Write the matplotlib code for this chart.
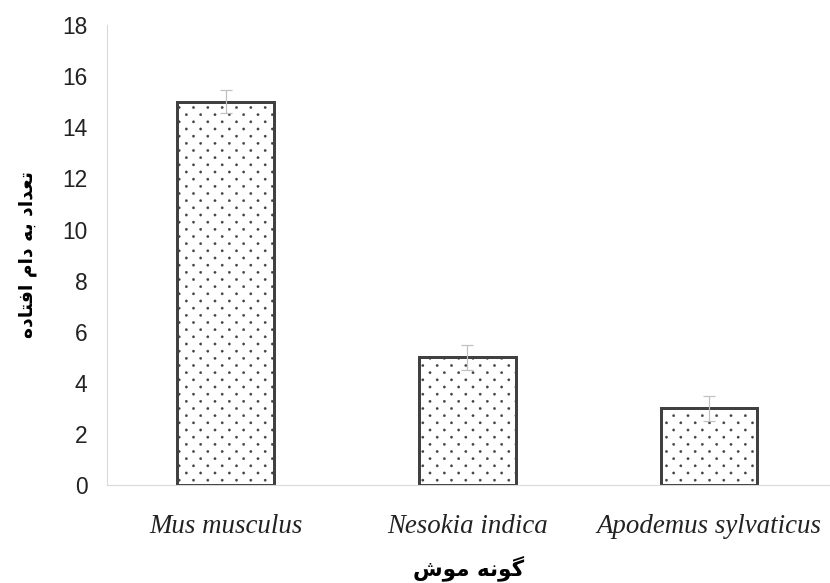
import numpy as np
import matplotlib.pyplot as plt
from matplotlib import hatch as mhatch
from matplotlib.path import Path

# Datos
especies = ['Mus musculus', 'Nesokia indica', 'Apodemus sylvaticus']
capturas = [15, 5, 3]
errores = [0.45, 0.5, 0.5]
titulo_y = 'تعداد به دام افتاده'
titulo_x = 'گونه موش'

# formas (aislada, final, inicial, media) para el texto persa
FORMAS = {
    'ا': ('\uFE8D', '\uFE8E', None, None),
    'ب': ('\uFE8F', '\uFE90', '\uFE91', '\uFE92'),
    'ت': ('\uFE95', '\uFE96', '\uFE97', '\uFE98'),
    'د': ('\uFEA9', '\uFEAA', None, None),
    'ع': ('\uFEC9', '\uFECA', '\uFECB', '\uFECC'),
    'ف': ('\uFED1', '\uFED2', '\uFED3', '\uFED4'),
    'م': ('\uFEE1', '\uFEE2', '\uFEE3', '\uFEE4'),
    'ن': ('\uFEE5', '\uFEE6', '\uFEE7', '\uFEE8'),
    'ه': ('\uFEE9', '\uFEEA', '\uFEEB', '\uFEEC'),
    'و': ('\uFEED', '\uFEEE', None, None),
    'ش': ('\uFEB5', '\uFEB6', '\uFEB7', '\uFEB8'),
    'گ': ('\uFB92', '\uFB93', '\uFB94', '\uFB95'),
}


def persa(texto):
    salida = []
    for i, c in enumerate(texto):
        if c not in FORMAS:
            salida.append(c)
            continue
        prev = texto[i - 1] if i > 0 else ' '
        sig = texto[i + 1] if i + 1 < len(texto) else ' '
        une_prev = prev in FORMAS and FORMAS[prev][2] is not None
        une_sig = sig in FORMAS and FORMAS[c][2] is not None
        f = FORMAS[c]
        if une_prev and une_sig:
            salida.append(f[3])
        elif une_prev:
            salida.append(f[1])
        elif une_sig:
            salida.append(f[2])
        else:
            salida.append(f[0])
    return ''.join(reversed(salida))


# punteado tipo Excel: filas a media distancia, alternadas
class PuntosAlternos(mhatch.HatchPatternBase):
    tam = 0.08

    def __init__(self, hatch, density):
        self.n = hatch.count('.') * density
        self.circulo = Path.unit_circle()
        if self.n == 0:
            self.num_vertices = 0
        else:
            num = (self.n + 1) ** 2 + self.n ** 2
            self.num_vertices = num * len(self.circulo.vertices)

    def set_vertices_and_codes(self, vertices, codes):
        paso = 1.0 / self.n
        forma = self.circulo.vertices * paso * self.tam
        vs, cs = [], []
        for fila in range(2 * self.n + 1):
            if fila % 2 == 0:
                cols = np.linspace(0, 1, self.n + 1)
            else:
                cols = np.linspace(paso / 2, 1 - paso / 2, self.n)
            for col in cols:
                vs.append(forma + [col, fila * paso / 2])
                cs.append(self.circulo.codes)
        np.concatenate(vs, out=vertices)
        np.concatenate(cs, out=codes)


mhatch._hatch_types = [PuntosAlternos if t is mhatch.SmallFilledCircles else t
                       for t in mhatch._hatch_types]

# dpi 86 para que el punteado tenga el paso del original
DPI = 86
plt.rcParams['hatch.color'] = '#505050'
plt.rcParams['hatch.linewidth'] = 0.3

fig = plt.figure(figsize=(830 / DPI, 583 / DPI), dpi=DPI)
ax = fig.add_axes([0.129, 0.168, 0.871, 0.789])

x = range(len(especies))
ax.bar(x, capturas, width=0.4, color='white', edgecolor='#404040',
       linewidth=2.5, hatch='.', zorder=2)
ax.errorbar(x, capturas, yerr=errores, fmt='none', ecolor='#c0c0c0',
            elinewidth=1, capsize=5.4, capthick=1, zorder=3)

ax.set_xlim(-0.49, 2.5)
ax.set_ylim(0, 18)
ax.set_yticks(range(0, 19, 2))
ax.set_xticks(list(x))
ax.set_xticklabels(especies, fontfamily='Liberation Serif', fontstyle='italic',
                   fontsize=22.5)
for lbl in ax.get_yticklabels():
    lbl.set_fontfamily('Liberation Sans')
    lbl.set_fontsize(19)
ax.tick_params(length=0, colors='#222222')
ax.tick_params(axis='x', pad=24)
ax.tick_params(axis='y', pad=16.5)

for lado in ['top', 'right']:
    ax.spines[lado].set_visible(False)
for lado in ['left', 'bottom']:
    ax.spines[lado].set_color('#d9d9d9')
    ax.spines[lado].set_linewidth(0.9)

ax.set_ylabel(persa(titulo_y), fontfamily='DejaVu Sans', fontweight='bold',
              fontsize=15.7, labelpad=21)
ax.set_xlabel(persa(titulo_x), fontfamily='DejaVu Sans', fontweight='bold',
              fontsize=18, labelpad=14)

plt.savefig('out.png', dpi=DPI)
